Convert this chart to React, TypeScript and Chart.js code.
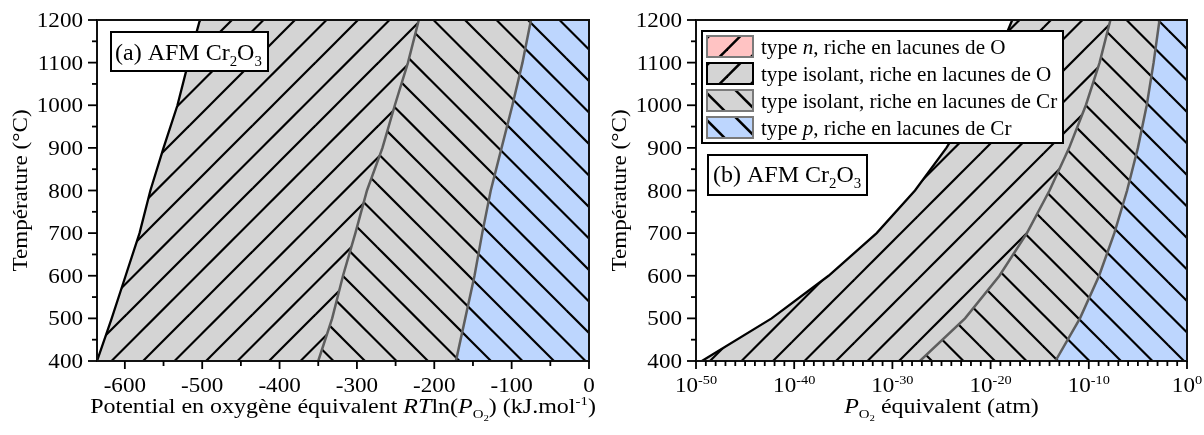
import React, { useEffect, useRef } from 'react';
import { Chart, registerables } from 'chart.js';

Chart.register(...registerables);

// ---------------- Data ----------------
// Temperatures (°C) at which the domain boundaries are read
const temperatures = [400, 500, 600, 700, 800, 900, 1000, 1100, 1200];

// Panel (a): RT ln(PO2) of the boundaries, kJ/mol
const aLimitO = [-636, -617, -599, -581, -567, -550, -532, -518, -503];
const aIsolOtoCr = [-350, -332, -318, -302, -287, -267, -251, -234, -220];
const aIsolCrToP = [-172, -160, -148, -138, -127, -113, -99, -86, -75];

// Panel (b): PO2 of the boundaries, as decimal exponents (atm = 10^e)
const bLimitOExp = [-49.4, -42.3, -36.5, -31.6, -27.7, -24.5, -21.8, -19.6, -17.8];
const bIsolOtoCrExp = [-27.2, -22.6, -19.1, -16.3, -14.0, -12.0, -10.3, -8.9, -7.8];
const bIsolCrToPExp = [-13.4, -10.9, -8.95, -7.4, -6.1, -5.0, -4.1, -3.4, -2.8];

// Axes
const tempRange = [400, 1200];
const aXRange = [-636, 0];
const bXRangeExp = [-50, 0];
const yTicks = [400, 500, 600, 700, 800, 900, 1000, 1100, 1200];
const yMinorTicks = [450, 550, 650, 750, 850, 950, 1050, 1150];
const aXTicks = [-600, -500, -400, -300, -200, -100, 0];
const aXMinorTicks = [-550, -450, -350, -250, -150, -50];
const bXTickExps = [-50, -40, -30, -20, -10, 0];
const bXMinorExps = Array.from({ length: 49 }, (_, i) => -49 + i).filter((e) => e % 10 !== 0);

// ---------------- Styles ----------------
const FONT = '"Liberation Serif", "Times New Roman", serif';
const GRAY = '#D4D4D4';
const BLUE = '#BDD6FE';
const PINK = '#FFC3C3';
const GRAYLINE = '#5E5E5E';
const TICK_SIZE = 21;
const TICK_HS = 1.1;
const P = 31.5;

type Seg = { t: string; it?: boolean; sub?: number; sup?: boolean };

function segFont(s: Seg, size: number) {
  let sz = size;
  if (s.sup || s.sub === 1) sz = size * 0.62;
  if (s.sub === 2) sz = size * 0.45;
  return `${s.it ? 'italic ' : ''}${sz}px ${FONT}`;
}
function segDy(s: Seg, size: number) {
  if (s.sup) return -size * 0.38;
  if (s.sub === 1) return size * 0.24;
  if (s.sub === 2) return size * 0.42;
  return 0;
}
function drawRich(
  ctx: CanvasRenderingContext2D,
  segs: Seg[],
  x: number,
  y: number,
  size: number,
  align: 'left' | 'center' | 'right',
  hs = 1,
  rot = 0
) {
  ctx.save();
  ctx.translate(x, y);
  if (rot) ctx.rotate(rot);
  ctx.scale(hs, 1);
  let w = 0;
  for (const s of segs) {
    ctx.font = segFont(s, size);
    w += ctx.measureText(s.t).width;
  }
  let cx = align === 'left' ? 0 : align === 'center' ? -w / 2 : -w;
  ctx.textAlign = 'left';
  ctx.textBaseline = 'alphabetic';
  ctx.fillStyle = '#000';
  for (const s of segs) {
    ctx.font = segFont(s, size);
    ctx.fillText(s.t, cx, segDy(s, size));
    cx += ctx.measureText(s.t).width;
  }
  ctx.restore();
}

// dir 1 = "/" (x + y = c), dir -1 = "\" (x - y = c); phase given in page coordinates
function makeHatch(bg: string, dir: number, ox: number, phase: number, lw = 2.2): CanvasPattern {
  const T = 63;
  const c = document.createElement('canvas');
  c.width = T;
  c.height = T;
  const g = c.getContext('2d')!;
  g.fillStyle = bg;
  g.fillRect(0, 0, T, T);
  g.strokeStyle = '#000';
  g.lineWidth = lw;
  const base = (((phase - ox) % P) + P) % P;
  for (let k = -5; k <= 6; k++) {
    const cl = base + k * P;
    g.beginPath();
    if (dir === 1) {
      g.moveTo(cl + 20, -20);
      g.lineTo(cl - T - 20, T + 20);
    } else {
      g.moveTo(cl - 20, -20);
      g.lineTo(cl + T + 20, T + 20);
    }
    g.stroke();
  }
  return g.createPattern(c, 'repeat')!;
}

const legendItems: { segs: Seg[]; bg: string; dir: number; border: string }[] = [
  { segs: [{ t: 'type ' }, { t: 'n', it: true }, { t: ', riche en lacunes de O' }], bg: PINK, dir: 1, border: '#7A7A7A' },
  { segs: [{ t: 'type isolant, riche en lacunes de O' }], bg: GRAY, dir: 1, border: '#000' },
  { segs: [{ t: 'type isolant, riche en lacunes de Cr' }], bg: GRAY, dir: -1, border: '#7A7A7A' },
  { segs: [{ t: 'type ' }, { t: 'p', it: true }, { t: ', riche en lacunes de Cr' }], bg: BLUE, dir: -1, border: '#7A7A7A' },
];

function decor(panel: 'a' | 'b', ox: number) {
  return {
    id: 'decor' + panel,
    afterDraw(chart: any) {
      const ctx: CanvasRenderingContext2D = chart.ctx;
      const a = chart.chartArea;
      const xs = chart.scales.x;
      const ys = chart.scales.y;
      ctx.save();
      const seg = (x1: number, y1: number, x2: number, y2: number) => {
        ctx.beginPath();
        ctx.moveTo(x1, y1);
        ctx.lineTo(x2, y2);
        ctx.stroke();
      };
      // frame
      ctx.strokeStyle = '#111';
      ctx.lineWidth = 2;
      ctx.strokeRect(a.left, a.top, a.right - a.left, a.bottom - a.top);
      // ticks
      ctx.strokeStyle = '#000';
      ctx.lineWidth = 1.8;
      for (const v of yTicks) {
        const py = ys.getPixelForValue(v);
        seg(a.left - 9, py, a.left, py);
        drawRich(ctx, [{ t: String(v) }], a.left - 14, py + 7, TICK_SIZE, 'right', TICK_HS);
      }
      for (const v of yMinorTicks) {
        const py = ys.getPixelForValue(v);
        seg(a.left - 5, py, a.left, py);
      }
      const titleY = 413;
      if (panel === 'a') {
        for (const v of aXTicks) {
          const px = xs.getPixelForValue(v);
          seg(px, a.bottom, px, a.bottom + 8);
          drawRich(ctx, [{ t: String(v) }], px, 392, TICK_SIZE, 'center', TICK_HS);
        }
        for (const v of aXMinorTicks) {
          const px = xs.getPixelForValue(v);
          seg(px, a.bottom, px, a.bottom + 5);
        }
        drawRich(
          ctx,
          [
            { t: 'Potential en oxygène équivalent ' },
            { t: 'RT', it: true },
            { t: 'ln(' },
            { t: 'P', it: true },
            { t: 'O', sub: 1 },
            { t: '2', sub: 2 },
            { t: ') (kJ.mol' },
            { t: '-1', sup: true },
            { t: ')' },
          ],
          (a.left + a.right) / 2,
          titleY,
          20,
          'center',
          1.2
        );
        // annotation (a)
        ctx.fillStyle = '#fff';
        ctx.fillRect(111 - ox, 32, 157, 39);
        ctx.strokeStyle = '#000';
        ctx.lineWidth = 2;
        ctx.strokeRect(111 - ox, 32, 157, 39);
        drawRich(
          ctx,
          [{ t: '(a) AFM Cr' }, { t: '2', sub: 1 }, { t: 'O' }, { t: '3', sub: 1 }],
          115 - ox,
          60,
          24,
          'left'
        );
      } else {
        for (const e of bXTickExps) {
          const px = xs.getPixelForValue(Math.pow(10, e));
          seg(px, a.bottom, px, a.bottom + 8);
          drawRich(ctx, [{ t: '10' }, { t: String(e), sup: true }], px, 392, TICK_SIZE, 'center', TICK_HS);
        }
        for (const e of bXMinorExps) {
          const px = xs.getPixelForValue(Math.pow(10, e));
          seg(px, a.bottom, px, a.bottom + 5);
        }
        drawRich(
          ctx,
          [{ t: 'P', it: true }, { t: 'O', sub: 1 }, { t: '2', sub: 2 }, { t: ' équivalent (atm)' }],
          (a.left + a.right) / 2,
          titleY,
          20,
          'center',
          1.2
        );
        // legend
        ctx.fillStyle = '#fff';
        ctx.fillRect(702 - ox, 31, 361, 112);
        ctx.strokeStyle = '#000';
        ctx.lineWidth = 2;
        ctx.strokeRect(702 - ox, 31, 361, 112);
        legendItems.forEach((it, i) => {
          const sx = 707;
          const sy = 36 + i * 27;
          const cx = sx + 23;
          const cy = sy + 10.5;
          const phase = it.dir === 1 ? cx + cy : cx - cy + P / 2;
          ctx.fillStyle = makeHatch(it.bg, it.dir, ox, phase, 2.6);
          ctx.fillRect(sx - ox, sy, 46, 21);
          ctx.strokeStyle = it.border;
          ctx.lineWidth = 2;
          ctx.strokeRect(sx - ox, sy, 46, 21);
          drawRich(ctx, it.segs, 761 - ox, 54 + i * 27, 22, 'left', 0.96);
        });
        // annotation (b)
        ctx.fillStyle = '#fff';
        ctx.fillRect(708 - ox, 155, 159, 40);
        ctx.strokeStyle = '#000';
        ctx.lineWidth = 2;
        ctx.strokeRect(708 - ox, 155, 159, 40);
        drawRich(
          ctx,
          [{ t: '(b) AFM Cr' }, { t: '2', sub: 1 }, { t: 'O' }, { t: '3', sub: 1 }],
          713 - ox,
          182,
          24,
          'left'
        );
      }
      // y title
      drawRich(ctx, [{ t: 'Température (°C)' }], a.left - 70, (a.top + a.bottom) / 2, 22, 'center', 1.05, -Math.PI / 2);
      ctx.restore();
    },
  };
}

function buildChart(canvas: HTMLCanvasElement, panel: 'a' | 'b') {
  const ox = panel === 'a' ? 0 : 602;
  const isA = panel === 'a';
  const L0 = isA ? aLimitO : bLimitOExp.map((e) => Math.pow(10, e));
  const L1 = isA ? aIsolOtoCr : bIsolOtoCrExp.map((e) => Math.pow(10, e));
  const L2 = isA ? aIsolCrToP : bIsolCrToPExp.map((e) => Math.pow(10, e));
  const xMin = isA ? aXRange[0] : Math.pow(10, bXRangeExp[0]);
  const xMax = isA ? aXRange[1] : Math.pow(10, bXRangeExp[1]);
  const pts = (xs: number[]) => xs.map((x, i) => ({ x, y: temperatures[i] }));

  const patO = makeHatch(GRAY, 1, ox, 0);
  const patCr = makeHatch(GRAY, -1, ox, 4);
  const patP = makeHatch(BLUE, -1, ox, 4);

  const polyO = [...pts(L0), ...pts(L1).reverse()];
  const polyCr = [...pts(L1), ...pts(L2).reverse()];
  const polyP = [...pts(L2), { x: xMax, y: tempRange[1] }, { x: xMax, y: tempRange[0] }];

  const lineDs = (data: any[], color: string, w: number) => ({
    data,
    borderColor: color,
    borderWidth: w,
    pointRadius: 0,
    fill: false,
    tension: 0,
    order: 0,
  });
  const polyDs = (data: any[], bg: CanvasPattern) => ({
    data,
    backgroundColor: bg,
    borderWidth: 0,
    borderColor: 'rgba(0,0,0,0)',
    pointRadius: 0,
    fill: 'shape',
    tension: 0,
    order: 1,
  });

  return new Chart(canvas, {
    type: 'line',
    data: {
      datasets: [
        lineDs(pts(L0), '#000', 2.3),
        lineDs(pts(L1), GRAYLINE, 2.5),
        lineDs(pts(L2), GRAYLINE, 2.5),
        polyDs(polyO, patO),
        polyDs(polyCr, patCr),
        polyDs(polyP, patP),
      ] as any,
    },
    options: {
      animation: false,
      responsive: false,
      devicePixelRatio: 1,
      events: [],
      layout: { padding: { left: isA ? 97 : 94, right: isA ? 13 : 17, top: 20, bottom: 74 } },
      plugins: { legend: { display: false }, tooltip: { enabled: false } },
      scales: {
        x: { type: isA ? 'linear' : 'logarithmic', min: xMin, max: xMax, display: false },
        y: { type: 'linear', min: tempRange[0], max: tempRange[1], display: false },
      },
    } as any,
    plugins: [decor(panel, ox)],
  });
}

export default function App() {
  const refA = useRef<HTMLCanvasElement>(null);
  const refB = useRef<HTMLCanvasElement>(null);
  useEffect(() => {
    const ca = buildChart(refA.current!, 'a');
    const cb = buildChart(refB.current!, 'b');
    return () => {
      ca.destroy();
      cb.destroy();
    };
  }, []);
  return (
    <div style={{ position: 'fixed', left: 0, top: 0, width: 1204, height: 435, background: '#fff' }}>
      <canvas ref={refA} width={602} height={435} style={{ position: 'absolute', left: 0, top: 0 }} />
      <canvas ref={refB} width={602} height={435} style={{ position: 'absolute', left: 602, top: 0 }} />
    </div>
  );
}
